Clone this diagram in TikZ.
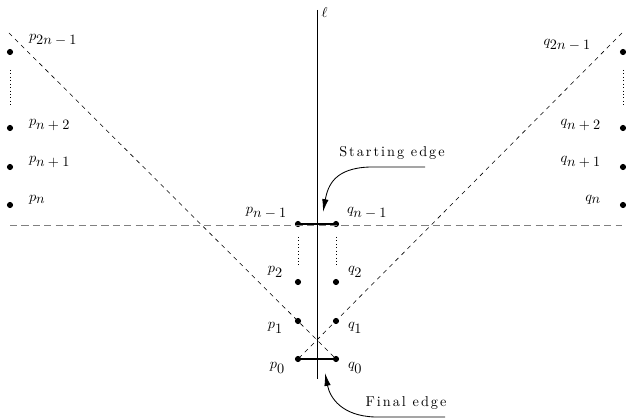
\documentclass[tikz,border=0pt]{standalone}
\usepackage{fontspec}
\usetikzlibrary{arrows.meta}
\newfontfamily\spaced[LetterSpace=14]{Latin Modern Roman}
\newcommand{\lbl}[2]{$#1_{\textstyle #2}$}
\begin{document}
\begin{tikzpicture}[x=0.7pt, y=-0.7pt, every node/.style={font=\normalsize},
  pt/.style={circle,fill=black,inner sep=0pt,minimum size=4.3pt},
  diag/.style={dashed,thin},
  edge/.style={thick},
  callout/.style={-{Latex[length=9pt,width=4.5pt]},semithick}]
\useasboundingbox (0,0) rectangle (626,419);
% line l
\coordinate (ltop) at (317,10);
\coordinate (lbot) at (317,379);
\draw[semithick] (ltop) -- (lbot);
\node[anchor=west,inner sep=1pt] (lname) at (320,13) {$\ell$};
% left column
\node[pt] (p2n) at (10,52) {};
\node[pt] (pn2) at (10,128) {};
\node[pt] (pn1) at (10,167) {};
\node[pt] (pn) at (10,205) {};
\node[anchor=west] at (24,40) {\lbl{p}{2n-1}};
\node[anchor=west] at (24,125) {\lbl{p}{n+2}};
\node[anchor=west] at (24,162) {\lbl{p}{n+1}};
\node[anchor=west] at (24,200) {\lbl{p}{n}};
\draw[dotted] (p2n) ++(0,18) -- ++(0,36);
% right column
\node[pt] (q2n) at (623,52) {};
\node[pt] (qn2) at (623,128) {};
\node[pt] (qn1) at (623,167) {};
\node[pt] (qn) at (623,205) {};
\node[anchor=east] at (596,45) {\lbl{q}{2n-1}};
\node[anchor=east] at (606,125) {\lbl{q}{n+2}};
\node[anchor=east] at (606,162) {\lbl{q}{n+1}};
\node[anchor=east] at (606,200) {\lbl{q}{n}};
\draw[dotted] (q2n) ++(0,18) -- ++(0,36);
% centre points
\node[pt] (pm) at (298,224) {};
\node[pt] (qm) at (336,224) {};
\node[pt] (p2) at (298,282) {};
\node[pt] (q2) at (336,282) {};
\node[pt] (p1) at (298,321) {};
\node[pt] (q1) at (336,321) {};
\node[pt] (p0) at (298,359) {};
\node[pt] (q0) at (336,359) {};
\node[anchor=east] at (292,213) {\lbl{p}{n-1}};
\node[anchor=west] at (342,213) {\lbl{q}{n-1}};
\node[anchor=east] at (288,272) {\lbl{p}{2}};
\node[anchor=west] at (343,272) {\lbl{q}{2}};
\node[anchor=east] at (288,328) {\lbl{p}{1}};
\node[anchor=west] at (343,328) {\lbl{q}{1}};
\node[anchor=east] at (290,368) {\lbl{p}{0}};
\node[anchor=west] at (343,368) {\lbl{q}{0}};
\draw[dotted] (pm) ++(0,13) -- ++(0,28);
\draw[dotted] (qm) ++(0,13) -- ++(0,28);
% dashed guides
\coordinate (hl) at (10,225);
\coordinate (hr) at (622,225);
\coordinate (dl) at (9,33);
\coordinate (dr) at (622,33);
\draw[gray,semithick,dash pattern=on 5pt off 3pt] (hl) -- (hr);
\draw[diag] (dl) -- (q0.center);
\draw[diag] (dr) -- (p0.center);
% edges
\draw[edge] (pm.center) -- (qm.center);
\draw[edge] (p0.center) -- (q0.center);
% callouts
\node (start) at (392,153) {\spaced Starting edge};
\node (final) at (406,403) {\spaced Final edge};
\coordinate (startend) at (425,167);
\coordinate (starttip) at (323,212);
\coordinate (finalend) at (445,417);
\coordinate (finaltip) at (325,373);
\draw[callout] (startend) -- (370,167) .. controls (335,168) and (328,185) .. (starttip);
\draw[callout] (finalend) -- (375,417) .. controls (342,416) and (330,398) .. (finaltip);
\end{tikzpicture}
\end{document}
